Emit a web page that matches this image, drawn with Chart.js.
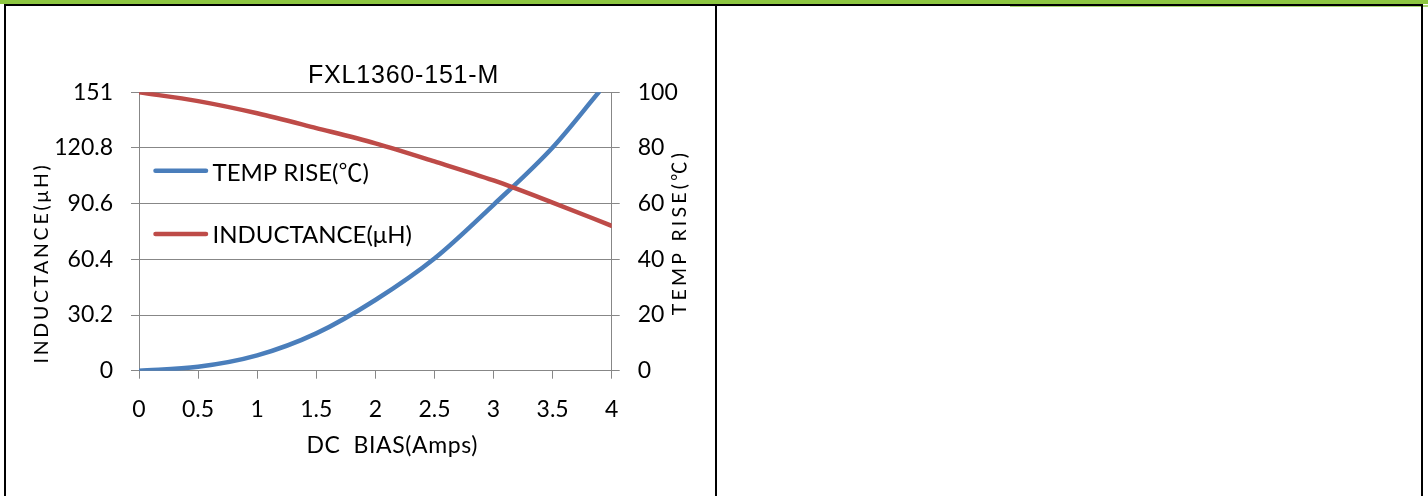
<!DOCTYPE html>
<html>
<head>
<meta charset="utf-8">
<script src="https://cdn.jsdelivr.net/npm/chart.js@4.4.1/dist/chart.umd.min.js"></script>
<style>
html,body{margin:0;padding:0;background:#fff;width:1428px;height:496px;overflow:hidden;position:relative;}
#wrap{position:absolute;left:0;top:0;width:716px;height:496px;}
.b{position:absolute;background:#000;}
</style>
</head>
<body>
<div id="wrap"><canvas id="c" width="716" height="496"></canvas></div>
<div class="b" style="left:0;top:0;width:1428px;height:3.5px;background:#8dc641"></div>
<div class="b" style="left:1010px;top:5px;width:418px;height:2px;background:#aad573"></div>
<div class="b" style="left:4px;top:3.5px;width:1419px;height:2px"></div>
<div class="b" style="left:4px;top:3.5px;width:2px;height:493px"></div>
<div class="b" style="left:715px;top:3.5px;width:2px;height:493px"></div>
<div class="b" style="left:1421px;top:3.5px;width:2px;height:493px"></div>
<script>
// ---- data ----
const chartTitle = 'FXL1360-151-M';
const xTitle = 'DC  BIAS(Amps)';
const leftTitle = 'INDUCTANCE(μH)';
const rightTitle = 'TEMP RISE(℃)';

const biasTicks = [0, 0.5, 1, 1.5, 2, 2.5, 3, 3.5, 4];
const inductanceTicks = [0, 30.2, 60.4, 90.6, 120.8, 151];
const tempTicks = [0, 20, 40, 60, 80, 100];

const tempBias = [0, 0.5, 1, 1.5, 2, 2.5, 3, 3.5, 3.89];
const tempRise = [0, 1.4, 5.5, 13.4, 25.4, 40.3, 59.6, 80.2, 100];

const indBias = [0, 0.5, 1, 1.5, 2, 2.5, 3, 3.5, 4];
const inductance = [151, 146.2, 139.6, 131.6, 123.3, 113.5, 103.2, 91.2, 78.6];

// ---- styling ----
const GRID = '#878787';
const FONT_FAMILY = "Lato, 'Noto Sans CJK SC', sans-serif";
const tickFont = { family: FONT_FAMILY, size: 23 };

function setSpacing(ctx, v) { if ('letterSpacing' in ctx) ctx.letterSpacing = v; }

const decor = {
  id: 'decor',
  afterDraw(chart) {
    const ctx = chart.ctx;
    ctx.save();
    ctx.fillStyle = '#000';
    // Title
    ctx.font = "25px 'Liberation Sans', Arial, sans-serif";
    setSpacing(ctx, '0.8px');
    ctx.textAlign = 'left';
    ctx.textBaseline = 'alphabetic';
    ctx.fillText(chartTitle, 308, 83);

    // X axis title
    ctx.font = '23px ' + FONT_FAMILY;
    setSpacing(ctx, '0.6px');
    ctx.fillText(xTitle, 306.5, 453);

    // Left axis title
    ctx.font = '19.5px ' + FONT_FAMILY;
    setSpacing(ctx, '2.8px');
    ctx.save();
    ctx.translate(47.5, 263);
    ctx.rotate(-Math.PI / 2);
    ctx.textAlign = 'center';
    ctx.fillText(leftTitle, 0, 0);
    ctx.restore();

    // Right axis title
    setSpacing(ctx, '3.2px');
    ctx.save();
    ctx.translate(685.5, 232.5);
    ctx.rotate(-Math.PI / 2);
    ctx.textAlign = 'center';
    ctx.fillText(rightTitle, 0, 0);
    ctx.restore();

    // Legend inside plot
    setSpacing(ctx, '0px');
    const rows = [
      { ds: chart.data.datasets[0], y: 170.7, base: 180.7 },
      { ds: chart.data.datasets[1], y: 234, base: 242.7 }
    ];
    ctx.font = '24px ' + FONT_FAMILY;
    rows.forEach(r => {
      ctx.strokeStyle = r.ds.borderColor;
      ctx.lineWidth = 4.5;
      ctx.lineCap = 'round';
      ctx.beginPath();
      ctx.moveTo(155.5, r.y);
      ctx.lineTo(206, r.y);
      ctx.stroke();
      ctx.fillStyle = '#000';
      ctx.textAlign = 'left';
      ctx.fillText(r.ds.label, 212.5, r.base);
    });
    ctx.restore();
  }
};

new Chart(document.getElementById('c'), {
  type: 'line',
  data: {
    datasets: [
      {
        label: rightTitle,
        data: tempBias.map((x, i) => ({ x: x, y: tempRise[i] })),
        yAxisID: 'yT',
        borderColor: '#4a7ebb',
        borderWidth: 4.5,
        borderCapStyle: 'round',
        pointRadius: 0,
        cubicInterpolationMode: 'monotone',
        fill: false,
        order: 2
      },
      {
        label: leftTitle,
        data: indBias.map((x, i) => ({ x: x, y: inductance[i] })),
        yAxisID: 'yL',
        borderColor: '#be4b48',
        borderWidth: 4.5,
        borderCapStyle: 'round',
        pointRadius: 0,
        cubicInterpolationMode: 'monotone',
        fill: false,
        order: 1
      }
    ]
  },
  options: {
    responsive: false,
    animation: false,
    devicePixelRatio: 1,
    events: [],
    layout: { padding: { top: 92.3, left: 0, right: 0, bottom: 0 } },
    plugins: {
      legend: { display: false },
      title: { display: false },
      tooltip: { enabled: false }
    },
    scales: {
      x: {
        type: 'linear',
        min: 0, max: 4,
        afterBuildTicks: a => { a.ticks = biasTicks.map(v => ({ value: v })); },
        afterFit: s => { s.height = 125.3; },
        grid: { drawOnChartArea: false, drawTicks: true, tickLength: 8, color: GRID },
        border: { color: GRID, width: 1 },
        ticks: { font: tickFont, color: '#000', padding: 17, maxRotation: 0, autoSkip: false, callback: v => String(v) }
      },
      yL: {
        type: 'linear',
        position: 'left',
        min: 0, max: 151,
        afterBuildTicks: a => { a.ticks = inductanceTicks.map(v => ({ value: v })); },
        afterFit: s => { s.width = 139; },
        grid: { drawOnChartArea: true, drawTicks: true, tickLength: 8, color: GRID },
        border: { color: GRID, width: 1 },
        ticks: { font: tickFont, color: '#000', padding: 18, autoSkip: false, callback: v => String(v) }
      },
      yT: {
        type: 'linear',
        position: 'right',
        min: 0, max: 100,
        afterBuildTicks: a => { a.ticks = tempTicks.map(v => ({ value: v })); },
        afterFit: s => { s.width = 716 - 611.7; },
        grid: { drawOnChartArea: false, drawTicks: true, tickLength: 8, color: GRID },
        border: { color: GRID, width: 1 },
        ticks: { font: tickFont, color: '#000', padding: 18, autoSkip: false, callback: v => String(v) }
      }
    }
  },
  plugins: [decor]
});
</script>
</body>
</html>
